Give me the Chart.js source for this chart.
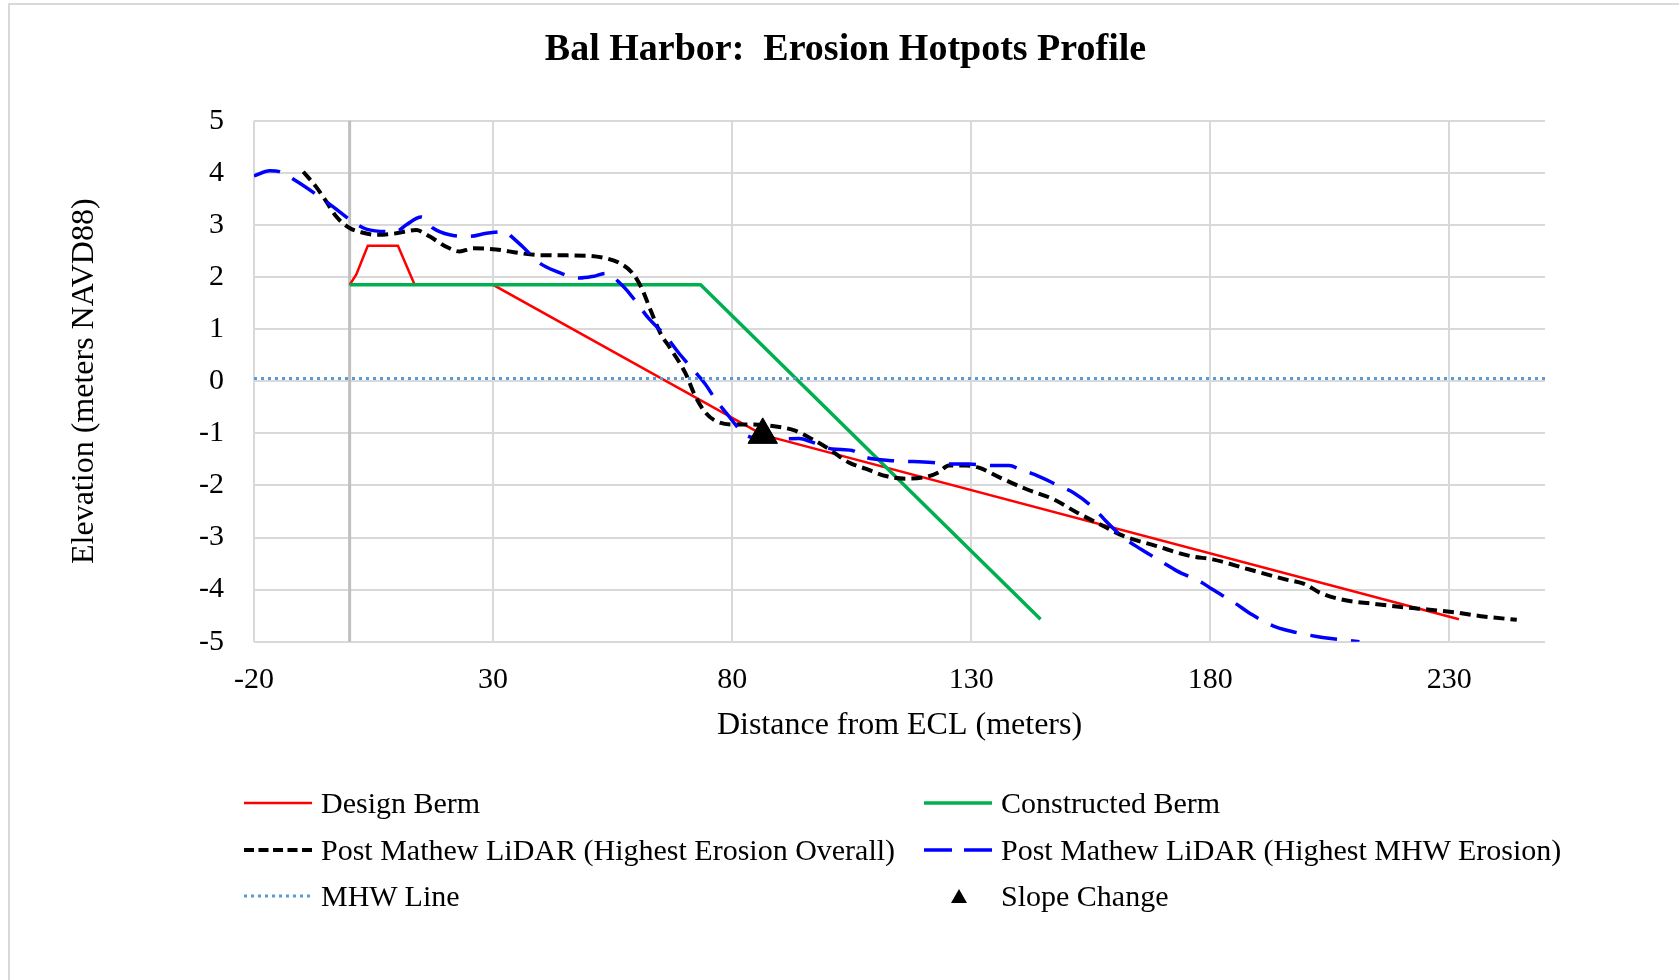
<!DOCTYPE html>
<html>
<head>
<meta charset="utf-8">
<title>Bal Harbor: Erosion Hotpots Profile</title>
<script src="https://cdn.jsdelivr.net/npm/chart.js@4.4.1/dist/chart.umd.min.js"></script>
<style>
  html, body { margin: 0; padding: 0; background: #fff; }
  #wrap { position: relative; width: 1679px; height: 980px; overflow: hidden; }
  #frame { position: absolute; left: 8px; top: 3px; width: 2000px; height: 2000px;
           border-left: 2px solid #d9d9d9; border-top: 2px solid #d9d9d9; }
  #chart { position: absolute; left: 0; top: 0; }
  #legend { position: absolute; left: 244px; top: 780px; display: grid;
            grid-template-columns: 680px 680px; grid-auto-rows: 46.5px;
            font: 30px 'Liberation Serif', serif; color: #000; }
  .item { display: flex; align-items: center; white-space: nowrap; }
  .item svg { flex: none; margin-right: 9px; }
</style>
</head>
<body>
<div id="wrap">
  <div id="frame"></div>
  <canvas id="chart" width="1679" height="980"></canvas>
  <div id="legend"></div>
</div>
<script>
// tick labels of the distance axis (Excel starts them at -20)
var xTicks = [-20, 30, 80, 130, 180, 230]

// Design Berm
var designBermX = [0, 1.4, 3.8, 10.1, 13.6, 30, 86.4, 232]
var designBermY = [1.85, 2.05, 2.6, 2.6, 1.85, 1.85, -1.03, -4.57]

// Constructed Berm
var constructedX = [0, 73.4, 144.5]
var constructedY = [1.85, 1.85, -4.57]

// Post Mathew LiDAR (Highest Erosion Overall)
var overallX = [-9.7, -7.0, -4.9, -2.8, 0, 2.8, 5.6, 9.1, 13.9, 16.7, 20.2, 23.0, 25.8, 30.6, 35.5, 39.7,
  49.4, 53.6, 56.4, 59.2, 61.0, 63.0, 65.0, 67.0, 70.2, 72.3, 74.4, 76.5, 80.0, 82.8, 88.4, 93.2,
  96.7, 100.2, 104.4, 107.9, 112.1, 116.3, 120.4, 123.2, 125.3, 128.8, 131.6, 135.8, 141.2, 147.3,
  152.1, 157.4, 161.8, 168.6, 176.0, 180.5, 188.0, 195.5, 199.9, 202.9, 207.4, 214.9, 221.6, 225.4,
  231.3, 236.6, 244.1]
var overallY = [4.02, 3.73, 3.45, 3.16, 2.94, 2.85, 2.81, 2.83, 2.90, 2.78, 2.58, 2.49, 2.55, 2.53, 2.46, 2.42,
  2.41, 2.36, 2.27, 2.07, 1.80, 1.35, 0.92, 0.64, 0.16, -0.29, -0.60, -0.76, -0.83, -0.83, -0.86, -0.95,
  -1.11, -1.30, -1.56, -1.68, -1.82, -1.87, -1.84, -1.75, -1.62, -1.62, -1.66, -1.84, -2.06, -2.27,
  -2.52, -2.77, -2.97, -3.16, -3.36, -3.42, -3.61, -3.80, -3.90, -4.06, -4.19, -4.28, -4.35, -4.38,
  -4.44, -4.51, -4.58]

// Post Mathew LiDAR (Highest MHW Erosion)
var mhwErosionX = [-20, -16.7, -14.6, -11.5, -6.3, -3.5, 0.7, 3.5, 9.7, 11.8, 15.0, 17.4, 20.9, 25.1, 28.6,
  32.7, 33.8, 36.2, 39.7, 43.2, 48.1, 50.8, 53.6, 57.0, 59.1, 62.6, 66.2, 68.6, 70.6, 74.4, 76.5, 79.3,
  82.1, 84.2, 90.1, 94.0, 96.7, 100.9, 105.1, 107.9, 112.8, 121.8, 125.3, 129.5, 134.4, 137.9, 140.2,
  143.2, 148.4, 151.4, 155.9, 158.1, 161.8, 165.6, 170.1, 173.0, 178.3, 180.5, 185.0, 188.7, 193.2,
  196.9, 202.2, 205.2, 211.2]
var mhwErosionY = [3.94, 4.04, 4.02, 3.86, 3.54, 3.35, 3.06, 2.92, 2.87, 3.0, 3.15, 2.94, 2.81, 2.78, 2.84,
  2.87, 2.78, 2.58, 2.27, 2.11, 1.98, 2.01, 2.07, 1.84, 1.62, 1.2, 0.86, 0.57, 0.35, -0.06, -0.35, -0.67,
  -0.98, -1.08, -1.11, -1.10, -1.17, -1.30, -1.33, -1.46, -1.52, -1.56, -1.59, -1.59, -1.62, -1.62, -1.69,
  -1.79, -2.01, -2.14, -2.46, -2.68, -3.0, -3.23, -3.48, -3.64, -3.87, -4.0, -4.25, -4.48, -4.70,
  -4.80, -4.90, -4.94, -5.0]

// MHW Line
var mhwX = [-20, 250]
var mhwY = [0.05, 0.05]

// Slope Change
var slopeX = [86.4]
var slopeY = [-1.03]

function toPoints(xs, ys) {
  return xs.map(function (x, i) { return { x: x, y: ys[i] } })
}

// darker vertical axis line where distance = 0
var zeroLine = {
  id: 'zeroLine',
  beforeDatasetsDraw: function (chart) {
    var ctx = chart.ctx
    var area = chart.chartArea
    var px = chart.scales.x.getPixelForValue(0)
    ctx.save()
    ctx.strokeStyle = '#bfbfbf'
    ctx.lineWidth = 3
    ctx.beginPath()
    ctx.moveTo(px, area.top)
    ctx.lineTo(px, area.bottom)
    ctx.stroke()
    ctx.restore()
  }
}

Chart.defaults.font.family = "'Liberation Serif', 'Times New Roman', serif"
Chart.defaults.color = '#000'

var grid = { color: '#d9d9d9', lineWidth: 2, drawTicks: false }

var chart = new Chart(document.getElementById('chart'), {
  type: 'line',
  data: {
    datasets: [{
      label: 'Design Berm',
      data: toPoints(designBermX, designBermY),
      borderColor: '#ff0000', borderWidth: 2.5, pointRadius: 0, order: 5, yAxisID: 'y'
    }, {
      label: 'Constructed Berm',
      data: toPoints(constructedX, constructedY),
      borderColor: '#00b050', borderWidth: 3.5, pointRadius: 0, order: 4, yAxisID: 'y'
    }, {
      label: 'Post Mathew LiDAR (Highest Erosion Overall)',
      data: toPoints(overallX, overallY),
      borderColor: '#000000', borderWidth: 4, borderDash: [11, 6], pointRadius: 0,
      cubicInterpolationMode: 'monotone', order: 3, yAxisID: 'y'
    }, {
      label: 'Post Mathew LiDAR (Highest MHW Erosion)',
      data: toPoints(mhwErosionX, mhwErosionY),
      borderColor: '#0000ff', borderWidth: 3.5, borderDash: [27, 14], pointRadius: 0,
      cubicInterpolationMode: 'monotone', order: 2, yAxisID: 'y'
    }, {
      label: 'MHW Line',
      data: toPoints(mhwX, mhwY),
      borderColor: '#5b9bd5', borderWidth: 3, borderDash: [3, 4], pointRadius: 0, order: 1, yAxisID: 'y'
    }, {
      label: 'Slope Change',
      data: toPoints(slopeX, slopeY),
      showLine: false, pointStyle: 'triangle', pointRadius: 17,
      backgroundColor: '#000', borderColor: '#000', order: 0, yAxisID: 'y'
    }]
  },
  options: {
    responsive: false,
    animation: false,
    devicePixelRatio: 1,
    layout: { padding: { left: 12, top: 5, right: 0, bottom: 220 } },
    plugins: {
      legend: { display: false },
      tooltip: { enabled: false },
      title: {
        display: true,
        text: 'Bal Harbor:  Erosion Hotpots Profile',
        color: '#000',
        font: { size: 38, weight: 'bold' },
        padding: { top: 22, bottom: 48.1 }
      }
    },
    scales: {
      x: {
        type: 'linear', min: -20, max: 250,
        afterBuildTicks: function (axis) {
          axis.ticks = xTicks.map(function (v) { return { value: v } })
        },
        afterFit: function (s) { s.height = 118.3 },
        ticks: { font: { size: 30 }, padding: 20, maxRotation: 0, autoSkip: false },
        grid: grid,
        border: { display: false },
        title: { display: true, text: 'Distance from ECL (meters)', font: { size: 32 },
                 padding: { top: 0, bottom: 14.8 } }
      },
      y: {
        min: -5, max: 5,
        afterFit: function (s) { s.width = 242 },
        ticks: { stepSize: 1, font: { size: 30 }, padding: 30 },
        grid: grid,
        border: { display: false },
        title: { display: true, text: 'Elevation (meters NAVD88)', font: { size: 32 },
                 padding: { top: 53, bottom: 0 } }
      },
      // empty right-hand space so the title centres on the whole chart, like Excel
      yRight: {
        position: 'right', min: -5, max: 5,
        afterFit: function (s) { s.width = 134 },
        ticks: { display: false },
        grid: { display: false, drawTicks: false },
        border: { display: false }
      }
    }
  },
  plugins: [zeroLine]
})

// legend, two columns like the Excel one
var legendDash = {
  'Post Mathew LiDAR (Highest Erosion Overall)': '10 4.5',
  'Post Mathew LiDAR (Highest MHW Erosion)': '28 12',
  'MHW Line': '3 4'
}
var legendBox = document.getElementById('legend')
chart.data.datasets.forEach(function (ds) {
  var item = document.createElement('div')
  item.className = 'item'
  var svg
  if (ds.showLine === false) {
    svg = '<svg width="68" height="20"><polygon points="35,3 27,17 43,17" fill="#000"/></svg>'
  } else {
    var dash = legendDash[ds.label] ? ' stroke-dasharray="' + legendDash[ds.label] + '"' : ''
    svg = '<svg width="68" height="20"><line x1="0" y1="10" x2="68" y2="10" stroke="' + ds.borderColor +
      '" stroke-width="' + ds.borderWidth + '"' + dash + '/></svg>'
  }
  item.innerHTML = svg + '<span>' + ds.label + '</span>'
  legendBox.appendChild(item)
})
</script>
</body>
</html>
